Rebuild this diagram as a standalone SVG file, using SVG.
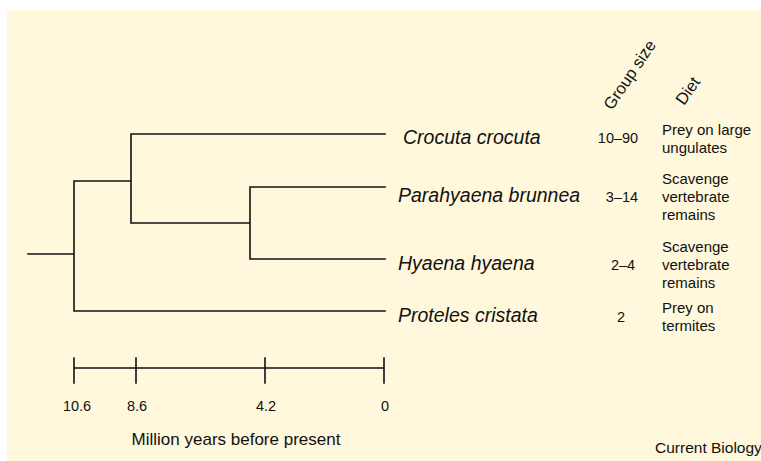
<svg xmlns="http://www.w3.org/2000/svg" width="761" height="461" viewBox="0 0 761 461">
<style>
.ln{stroke:#111;stroke-width:1.6;fill:none;stroke-linecap:square}
.sp{font-family:"Liberation Sans",Arial,sans-serif;font-style:italic;font-size:19.5px;fill:#111}
.t{font-family:"Liberation Sans",Arial,sans-serif;font-size:15px;fill:#111}
.h{font-family:"Liberation Sans",Arial,sans-serif;font-size:16.5px;fill:#111}
.n{font-family:"Liberation Sans",Arial,sans-serif;font-size:14.5px;fill:#111;text-anchor:middle}
.ax{font-family:"Liberation Sans",Arial,sans-serif;font-size:14.5px;fill:#111;text-anchor:middle}
</style>
<rect x="0" y="0" width="761" height="461" fill="#fff"/>
<rect x="7" y="10" width="754" height="451" fill="#fff8dc"/>
<g id="connectors">
<path class="ln" d="M28,254H74M74,181V311M74,181H131M74,311H385M131,134V223M131,134H385M131,223H250M250,187V259M250,187H385M250,259H385"/>
</g>
<g id="axis">
<path class="ln" d="M74,368H384M74,358V383M136,358V383M265,358V383M384,358V383"/>
<text class="ax" x="77" y="411">10.6</text>
<text class="ax" x="137" y="411">8.6</text>
<text class="ax" x="266" y="411">4.2</text>
<text class="ax" x="385" y="411">0</text>
<text class="ax" x="236" y="445" style="font-size:17px">Million years before present</text>
</g>
<g id="headers">
<text class="h" transform="translate(612,111) rotate(-56)">Group size</text>
<text class="h" transform="translate(684,106) rotate(-55)">Diet</text>
</g>
<g id="crocuta">
<text class="sp" x="403" y="144">Crocuta crocuta</text>
<text class="n" x="618" y="143">10–90</text>
<text class="t" x="662" y="135">Prey on large</text>
<text class="t" x="662" y="153">ungulates</text>
</g>
<g id="parahyaena">
<text class="sp" x="398" y="202">Parahyaena brunnea</text>
<text class="n" x="622" y="202">3–14</text>
<text class="t" x="662" y="184">Scavenge</text>
<text class="t" x="662" y="202">vertebrate</text>
<text class="t" x="662" y="220">remains</text>
</g>
<g id="hyaena">
<text class="sp" x="398" y="270">Hyaena hyaena</text>
<text class="n" x="623" y="270">2–4</text>
<text class="t" x="662" y="252">Scavenge</text>
<text class="t" x="662" y="270">vertebrate</text>
<text class="t" x="662" y="288">remains</text>
</g>
<g id="proteles">
<text class="sp" x="398" y="322">Proteles cristata</text>
<text class="n" x="621" y="322">2</text>
<text class="t" x="662" y="313">Prey on</text>
<text class="t" x="662" y="331">termites</text>
</g>
<text class="t" x="655" y="453" style="font-size:15.5px">Current Biology</text>
</svg>
